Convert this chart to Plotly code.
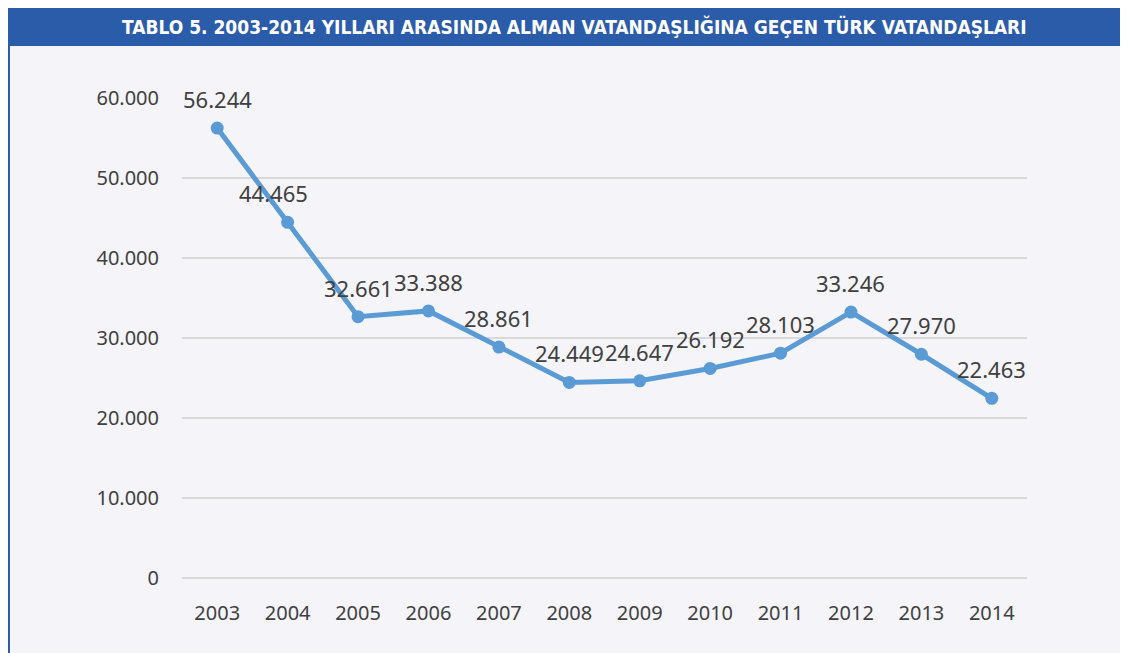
import plotly.graph_objects as go

# Data: Turkish citizens naturalised as German citizens, 2003-2014
years = ["2003", "2004", "2005", "2006", "2007", "2008",
         "2009", "2010", "2011", "2012", "2013", "2014"]
counts = [56244, 44465, 32661, 33388, 28861, 24449,
          24647, 26192, 28103, 33246, 27970, 22463]

title_text = "TABLO 5. 2003-2014 YILLARI ARASINDA ALMAN VATANDAŞLIĞINA GEÇEN TÜRK VATANDAŞLARI"

# page has an 8px body margin, so the figure sits at (8, 8)
OFF = 8
W, H = 1128 - OFF, 653 - OFF
ml, mt = 182 - OFF, 98 - OFF
mr, mb = W - (1027 - OFF), H - (578 - OFF)
pw, ph = W - ml - mr, H - mt - mb


# helpers to convert screen pixels to paper coordinates
def px_x(p):
    return (p - OFF - ml) / pw


def px_y(p):
    return (H - mb - (p - OFF)) / ph


blue_line = "#5B9BD5"
text_col = "#404040"

fig = go.Figure()
fig.add_trace(go.Scatter(
    x=years, y=counts,
    mode="lines+markers",
    line=dict(color=blue_line, width=5),
    marker=dict(color=blue_line, size=13),
    hoverinfo="skip",
))

# data labels above points (x given as category index)
for i, val in enumerate(counts):
    label = f"{val:,}".replace(",", ".")
    fig.add_annotation(
        x=i, y=val, text=label, showarrow=False,
        xanchor="center", yanchor="middle",
        yshift=29, xshift=-14 if i == 1 else 0,
        font=dict(family="Noto Sans", size=22, color=text_col),
    )

# title bar and left border
fig.add_shape(type="rect", xref="paper", yref="paper",
              x0=px_x(OFF), x1=px_x(1130), y0=px_y(46), y1=px_y(OFF - 2),
              fillcolor="#2B5CAA", line_width=0, layer="below")
fig.add_shape(type="line", xref="paper", yref="paper",
              x0=px_x(OFF + 1), x1=px_x(OFF + 1), y0=px_y(46), y1=px_y(660),
              line=dict(color="#2B5CAA", width=2), layer="below")
fig.add_annotation(
    xref="paper", yref="paper", x=px_x(574), y=px_y(27),
    xanchor="center", yanchor="middle",
    text="<b>" + title_text + "</b>", showarrow=False,
    font=dict(family="DejaVu Sans Condensed", size=19, color="white"),
)

fig.update_layout(
    width=W, height=H,
    margin=dict(l=ml, r=mr, t=mt, b=mb, autoexpand=False),
    paper_bgcolor="#F4F4F9",
    plot_bgcolor="#F4F4F9",
    separators=",.",
    showlegend=False,
    font=dict(family="Noto Sans", size=20, color=text_col),
)
fig.update_xaxes(
    type="category", range=[-0.5, 11.5], automargin=False,
    showgrid=False, showline=False, ticks="",
    ticklabelstandoff=21,
    tickfont=dict(size=20, color=text_col),
)
fig.update_yaxes(
    range=[0, 60000], dtick=10000, tickformat=",.0f", automargin=False,
    showgrid=True, gridcolor="#D9D9D9", gridwidth=2,
    zeroline=True, zerolinecolor="#D9D9D9", zerolinewidth=2,
    showline=False, ticks="", ticklabelstandoff=22,
    tickfont=dict(size=20, color=text_col),
)

fig.write_html("out.html")
